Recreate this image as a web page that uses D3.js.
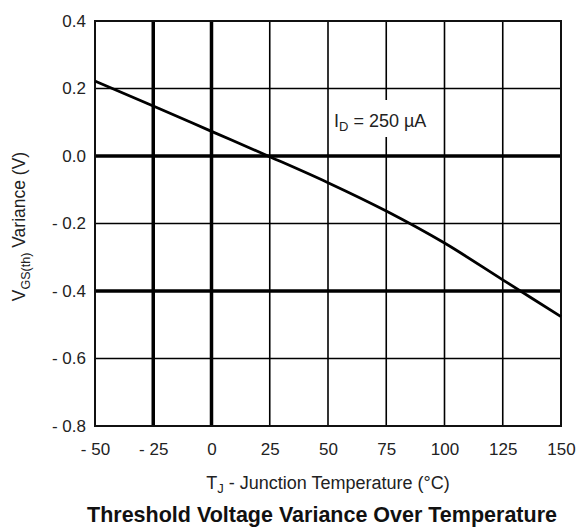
<!DOCTYPE html>
<html>
<head>
<meta charset="utf-8">
<script src="https://cdn.jsdelivr.net/npm/d3@7"></script>
<style>
  html, body { margin: 0; padding: 0; background: #fff; }
  svg { display: block; font-family: "Liberation Sans", Arial, Helvetica, sans-serif; }
</style>
</head>
<body>
<svg id="chart" width="579" height="528"></svg>
<script>
// Junction temperature (°C) and threshold-voltage variance (V)
const temperatures = [-50, -25, 0, 25, 50, 75, 100, 125, 150];
const variance = [0.222, 0.148, 0.073, -0.002, -0.079, -0.163, -0.258, -0.367, -0.476];

const xTicks = [-50, -25, 0, 25, 50, 75, 100, 125, 150];
const yTicks = [0.4, 0.2, 0.0, -0.2, -0.4, -0.6, -0.8];
const xHeavy = [-25, 0];
const yHeavy = [0.0, -0.4];

const svg = d3.select("#chart");
const margin = { left: 95, right: 18, top: 21, bottom: 102 };
const W = 579, H = 528;

const x = d3.scaleLinear().domain([-50, 150]).range([margin.left, W - margin.right]);
const y = d3.scaleLinear().domain([-0.8, 0.4]).range([H - margin.bottom, margin.top]);

const fmtY = v => (v < 0 ? "- " + Math.abs(v).toFixed(1) : v.toFixed(1));
const fmtX = v => (v < 0 ? "- " + Math.abs(v) : String(v));

// grid
const grid = svg.append("g");
grid.selectAll("line.v").data(xTicks.slice(1, -1)).join("line")
  .attr("x1", d => x(d)).attr("x2", d => x(d))
  .attr("y1", y(0.4)).attr("y2", y(-0.8))
  .attr("stroke", "#000")
  .attr("stroke-width", d => xHeavy.includes(d) ? 3.5 : 1.6);
grid.selectAll("line.h").data(yTicks.slice(1, -1)).join("line")
  .attr("y1", d => y(d)).attr("y2", d => y(d))
  .attr("x1", x(-50)).attr("x2", x(150))
  .attr("stroke", "#000")
  .attr("stroke-width", d => yHeavy.includes(d) ? 3.5 : 1.6);

// frame
svg.append("rect")
  .attr("x", x(-50)).attr("y", y(0.4))
  .attr("width", x(150) - x(-50)).attr("height", y(-0.8) - y(0.4))
  .attr("fill", "none").attr("stroke", "#111").attr("stroke-width", 2);

// axes (labels only)
const xAxis = d3.axisBottom(x).tickValues(xTicks).tickFormat(fmtX).tickSize(0).tickPadding(17);
const yAxis = d3.axisLeft(y).tickValues(yTicks).tickFormat(fmtY).tickSize(0).tickPadding(9);

const gx = svg.append("g").attr("transform", `translate(0,${y(-0.8)})`).call(xAxis);
const gy = svg.append("g").attr("transform", `translate(${x(-50)},0)`).call(yAxis);
[gx, gy].forEach(g => {
  g.select(".domain").remove();
  g.selectAll("text").attr("font-size", 17).attr("fill", "#222")
    .attr("font-family", "Liberation Sans, Arial, sans-serif");
});

// curve
const line = d3.line().x((d, i) => x(temperatures[i])).y(d => y(d)).curve(d3.curveMonotoneX);
svg.append("path").datum(variance)
  .attr("d", line)
  .attr("fill", "none").attr("stroke", "#000").attr("stroke-width", 2.8);

// condition label
const lab = svg.append("g");
lab.append("rect").attr("x", 332).attr("y", 100).attr("width", 102).attr("height", 37).attr("fill", "#fff");
const lt = lab.append("text").attr("x", 334).attr("y", 127).attr("font-size", 18).attr("fill", "#222");
lt.append("tspan").text("I");
lt.append("tspan").attr("font-size", 13).attr("dy", 4).text("D");
lt.append("tspan").attr("dy", -4).text(" = 250 µA");

// y axis title
const yt = svg.append("text")
  .attr("transform", `translate(25,${(y(0.4) + y(-0.8)) / 2 + 3}) rotate(-90)`)
  .attr("text-anchor", "middle").attr("font-size", 17.5).attr("fill", "#222");
yt.append("tspan").text("V");
yt.append("tspan").attr("font-size", 12.5).attr("dy", 5).text("GS(th)");
yt.append("tspan").attr("dy", -5).text("  Variance (V)");

// x axis title
const xt = svg.append("text")
  .attr("x", 328).attr("y", 489)
  .attr("text-anchor", "middle").attr("font-size", 18).attr("fill", "#222");
xt.append("tspan").text("T");
xt.append("tspan").attr("font-size", 13).attr("dy", 4).text("J");
xt.append("tspan").attr("dy", -4).text(" - Junction Temperature (°C)");

// chart title
svg.append("text")
  .attr("x", 322).attr("y", 522)
  .attr("text-anchor", "middle").attr("font-size", 21.5).attr("font-weight", "bold").attr("fill", "#111")
  .text("Threshold Voltage Variance Over Temperature");
</script>
</body>
</html>
